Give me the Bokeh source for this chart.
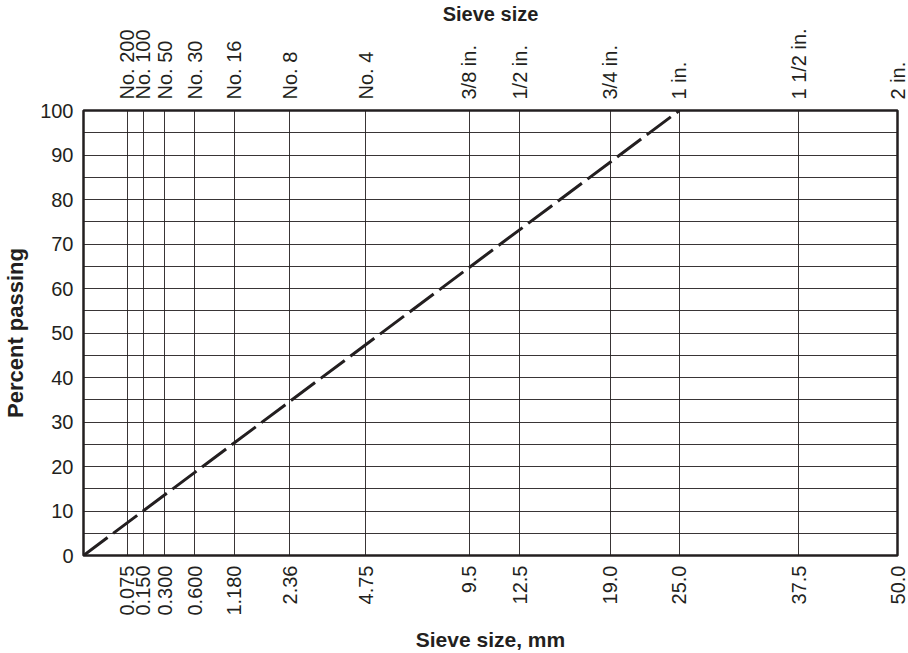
from bokeh.plotting import figure
from bokeh.models import FixedTicker, LinearAxis, Range1d, CustomJSTickFormatter
from bokeh.embed import file_html
from bokeh.resources import INLINE
import math

# ---- data ----
sieve_mm = [0.075, 0.150, 0.300, 0.600, 1.180, 2.36, 4.75, 9.5, 12.5, 19.0, 25.0, 37.5, 50.0]
mm_labels = ["0.075", "0.150", "0.300", "0.600", "1.180", "2.36", "4.75",
             "9.5", "12.5", "19.0", "25.0", "37.5", "50.0"]
sieve_names = ["No. 200", "No. 100", "No. 50", "No. 30", "No. 16", "No. 8", "No. 4",
               "3/8 in.", "1/2 in.", "3/4 in.", "1 in.", "1 1/2 in.", "2 in."]
percent_ticks = [0, 10, 20, 30, 40, 50, 60, 70, 80, 90, 100]
percent_grid = list(range(0, 101, 5))
# maximum density line (0.45 power): from origin to 100 % at 25.0 mm
mdl_size = [0.0, 25.0]
mdl_pass = [0.0, 100.0]

POWER = 0.45
def tx(d):
    return d ** POWER

xt = [tx(d) for d in sieve_mm]
XMAX = tx(max(sieve_mm))

INK = "#231f20"
FONT = "Liberation Sans"

p = figure(width=908, height=653, output_backend="svg", toolbar_location=None,
           x_range=Range1d(0, XMAX), y_range=Range1d(0, 100),
           min_border_left=82, min_border_right=11, min_border_top=110, min_border_bottom=97)
p.background_fill_color = "white"
p.border_fill_color = "white"
p.outline_line_color = INK
p.outline_line_width = 2.5

fmt_code = """
let i = 0, best = 1e9;
for (let k = 0; k < tvals.length; k++) {
  const d = Math.abs(tvals[k] - tick);
  if (d < best) { best = d; i = k; }
}
return labs[i];
"""

def style_axis(ax, title, title_size="20px"):
    ax.axis_line_color = None
    ax.major_tick_line_color = None
    ax.minor_tick_line_color = None
    ax.major_tick_out = 0
    ax.major_tick_in = 0
    ax.minor_tick_out = 0
    ax.minor_tick_in = 0
    ax.major_label_text_font = FONT
    ax.major_label_text_font_size = "20px"
    ax.major_label_text_color = INK
    ax.axis_label = title
    ax.axis_label_text_font = FONT
    ax.axis_label_text_font_style = "bold"
    ax.axis_label_text_font_size = title_size
    ax.axis_label_text_color = INK

# bottom axis
xa = p.xaxis[0]
xa.ticker = FixedTicker(ticks=xt)
xa.formatter = CustomJSTickFormatter(args=dict(tvals=xt, labs=mm_labels), code=fmt_code)
xa.major_label_orientation = math.pi / 2
style_axis(xa, "Sieve size, mm", "21px")
xa.major_label_standoff = 10
xa.axis_label_standoff = 9

# top axis
ta = LinearAxis(ticker=FixedTicker(ticks=xt),
                formatter=CustomJSTickFormatter(args=dict(tvals=xt, labs=sieve_names), code=fmt_code))
ta.major_label_orientation = math.pi / 2
style_axis(ta, "Sieve size", "20px")
ta.major_label_standoff = 11
ta.axis_label_standoff = 0
p.add_layout(ta, "above")

# left axis
ya = p.yaxis[0]
ya.ticker = FixedTicker(ticks=percent_ticks)
style_axis(ya, "Percent passing", "22px")
ya.major_label_standoff = 10
ya.axis_label_standoff = 9

# grids
p.xgrid.ticker = FixedTicker(ticks=xt)
p.ygrid.ticker = FixedTicker(ticks=percent_grid)
for g in (p.xgrid[0], p.ygrid[0]):
    g.grid_line_color = INK
    g.grid_line_width = 1
    g.grid_line_alpha = 0.9

# maximum density line
p.line([tx(d) for d in mdl_size], mdl_pass, line_color=INK, line_width=3,
       line_dash="30 7")

open("out.html", "w").write(file_html(p, INLINE))
